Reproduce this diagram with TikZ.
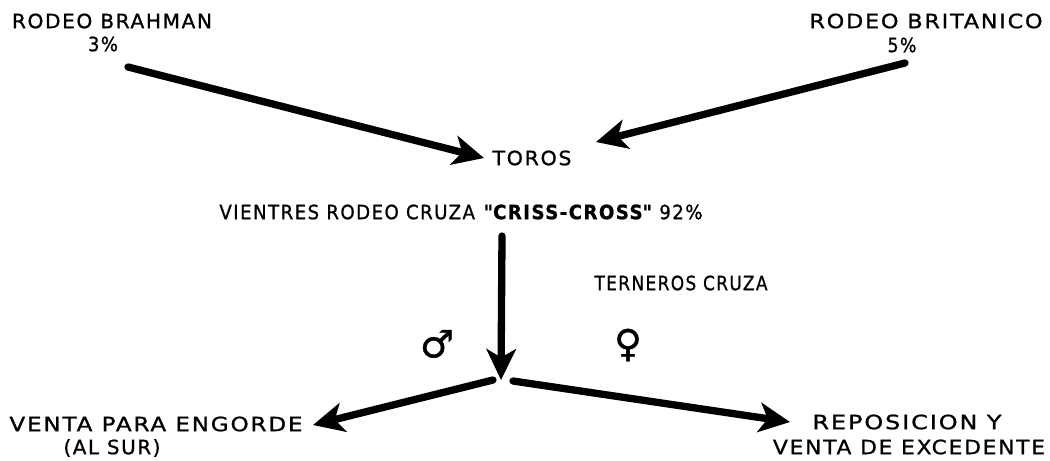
\documentclass[tikz,border=0pt]{standalone}
\usepackage{graphicx}
\usepackage{fontspec}
\setmainfont{DejaVu Sans}[LetterSpace=8, FakeBold=1]
\usetikzlibrary{arrows.meta}
% set a text to a given width (in drawing units of 0.025cm) by stretching it sideways
\newlength\fitlen
\newcommand\fitw[2]{\settowidth\fitlen{#2}%
  \pgfmathsetmacro\fitf{#1*0.711319/\fitlen}%
  \scalebox{\fitf}[1]{#2}}
\begin{document}
\begin{tikzpicture}[x=0.025cm,y=-0.025cm,
  lbl/.style={inner sep=0pt, outer sep=0pt, font=\fontsize{14}{15}\selectfont},
  arr/.style={line width=5.2pt, line cap=round,
    -{Stealth[length=22pt,width=21pt,inset=6pt]}},
  sym/.style={inner sep=0pt, font=\fontsize{27}{27}\selectfont}]
\useasboundingbox (0,0) rectangle (1050,460);

% sources
\node[lbl] (brahman) at (112,21) {\fitw{200}{RODEO BRAHMAN}};
\node[lbl] (pb) at (103,44) {\fitw{30}{3\%}};
\node[lbl] (britanico) at (926,21) {\fitw{233}{RODEO BRITANICO}};
\node[lbl] (pr) at (902,45) {\fitw{29}{5\%}};

% centre
\node[lbl] (toros) at (532,158) {\fitw{79}{TOROS}};
\node[lbl] (vientres) at (461,212)
  {\fitw{483}{VIENTRES RODEO CRUZA \textbf{\textquotedbl CRISS-CROSS\textquotedbl} 92\%}};
\node[lbl] (terneros) at (681,283) {\fitw{173}{TERNEROS CRUZA}};

% outputs
\node[lbl] (engorde) at (156,424) {\fitw{293}{VENTA PARA ENGORDE}};
\node[lbl] (sur) at (112,448) {\fitw{97}{(AL SUR)}};
\node[lbl] (repos) at (907,422) {\fitw{189}{REPOSICION Y}};
\node[lbl] (exced) at (909,447) {\fitw{272}{VENTA DE EXCEDENTE}};

% sex symbols
\node[sym] (male) at (437,344) {♂};
\node[sym] (female) at (628,345) {♀};

% connector ends
\coordinate (pb-out) at (128,67);
\coordinate (pr-out) at (905,63);
\coordinate (toros-l) at (484,158);
\coordinate (toros-r) at (596,142);
\coordinate (vientres-out) at (502,236);
\coordinate (split) at (501,380);
\coordinate (split-l) at (493,380);
\coordinate (split-r) at (513,381);
\coordinate (engorde-in) at (313,425);
\coordinate (repos-in) at (790,422);

\draw[arr] (pb-out) -- (toros-l);
\draw[arr] (pr-out) -- (toros-r);
\draw[arr] (vientres-out) -- (split);
\draw[arr] (split-l) -- (engorde-in);
\draw[arr] (split-r) -- (repos-in);
\end{tikzpicture}
\end{document}
